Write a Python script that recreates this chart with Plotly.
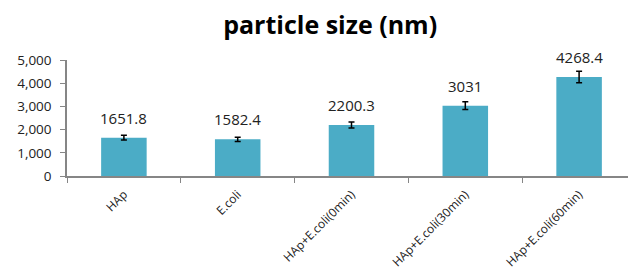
import plotly.graph_objects as go

categories = ["HAp", "E.coli", "HAp+E.coli(0min)", "HAp+E.coli(30min)", "HAp+E.coli(60min)"]
values = [1651.8, 1582.4, 2200.3, 3031, 4268.4]
errors = [100, 90, 130, 165, 245]
labels = ["1651.8", "1582.4", "2200.3", "3031", "4268.4"]

font_family = "Open Sans, Noto Sans, sans-serif"

fig = go.Figure(go.Bar(
    x=categories, y=values,
    marker=dict(color="#4BACC6", line=dict(width=0)),
    error_y=dict(type="data", array=errors, color="#000000", thickness=1.5, width=3),
    textposition="none",
    width=0.4,
))

for c, v, t in zip(categories, values, labels):
    fig.add_annotation(x=c, y=v, text=t, showarrow=False, yanchor="bottom", yshift=8,
                       font=dict(family=font_family, size=15, color="#222222"))

fig.update_layout(
    width=628, height=267,
    margin=dict(l=59, r=0, t=52, b=99),
    paper_bgcolor="white", plot_bgcolor="white",
    showlegend=False,
    title=dict(text="<b>particle size (nm)</b>", x=0.513, xanchor="center", y=0.935, yanchor="middle",
               font=dict(family=font_family, size=25, color="#000000")),
    font=dict(family=font_family, size=13, color="#222222"),
)
fig.update_xaxes(
    type="category", showline=True, linecolor="#868686", linewidth=1.5,
    ticks="outside", tickson="boundaries", ticklen=5, tickcolor="#868686",
    tickangle=-45, tickfont=dict(size=12), showgrid=False, ticklabelstandoff=5,
    automargin=False,
)
fig.update_yaxes(
    range=[0, 5000], dtick=1000, tickformat=",", showline=True, linecolor="#868686", linewidth=1.5,
    ticks="outside", ticklen=5, tickcolor="#868686", showgrid=False, zeroline=False,
    tickfont=dict(size=13.5), automargin=False, ticklabelstandoff=6,
)

fig.write_html("out.html")
